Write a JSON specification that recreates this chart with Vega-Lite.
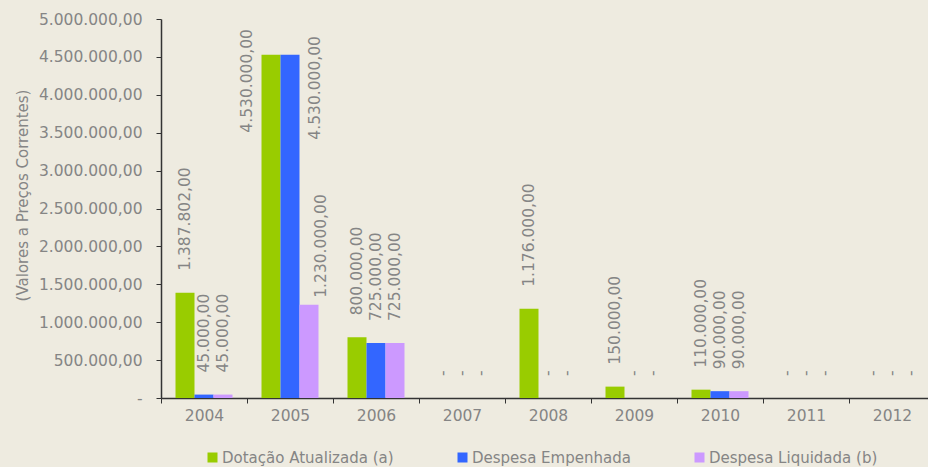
{
  "$schema": "https://vega.github.io/schema/vega-lite/v6.json",
  "width": 774,
  "height": 379,
  "autosize": {"type": "none"},
  "padding": {"left": 161, "top": 19, "right": 0, "bottom": 69},
  "background": "#EEEBE0",
  "config": {
    "locale": {"number": {"decimal": ",", "thousands": ".", "grouping": [3], "currency": ["R$ ", ""]}},
    "view": {"stroke": null},
    "font": "DejaVu Sans",
    "axis": {
      "labelFont": "DejaVu Sans",
      "labelFontSize": 15.5,
      "labelColor": "#858585",
      "domainColor": "#333333",
      "tickColor": "#333333",
      "grid": false,
      "titleFont": "DejaVu Sans",
      "titleFontWeight": "normal",
      "titleColor": "#858585",
      "titleFontSize": 15
    }
  },
  "data": {
    "values": [
      {"ano": "2004", "serie": "Dotação Atualizada (a)", "valor": 1387802},
      {"ano": "2004", "serie": "Despesa Empenhada", "valor": 45000},
      {"ano": "2004", "serie": "Despesa Liquidada (b)", "valor": 45000},
      {"ano": "2005", "serie": "Dotação Atualizada (a)", "valor": 4530000},
      {"ano": "2005", "serie": "Despesa Empenhada", "valor": 4530000},
      {"ano": "2005", "serie": "Despesa Liquidada (b)", "valor": 1230000},
      {"ano": "2006", "serie": "Dotação Atualizada (a)", "valor": 800000},
      {"ano": "2006", "serie": "Despesa Empenhada", "valor": 725000},
      {"ano": "2006", "serie": "Despesa Liquidada (b)", "valor": 725000},
      {"ano": "2007", "serie": "Dotação Atualizada (a)", "valor": 0},
      {"ano": "2007", "serie": "Despesa Empenhada", "valor": 0},
      {"ano": "2007", "serie": "Despesa Liquidada (b)", "valor": 0},
      {"ano": "2008", "serie": "Dotação Atualizada (a)", "valor": 1176000},
      {"ano": "2008", "serie": "Despesa Empenhada", "valor": 0},
      {"ano": "2008", "serie": "Despesa Liquidada (b)", "valor": 0},
      {"ano": "2009", "serie": "Dotação Atualizada (a)", "valor": 150000},
      {"ano": "2009", "serie": "Despesa Empenhada", "valor": 0},
      {"ano": "2009", "serie": "Despesa Liquidada (b)", "valor": 0},
      {"ano": "2010", "serie": "Dotação Atualizada (a)", "valor": 110000},
      {"ano": "2010", "serie": "Despesa Empenhada", "valor": 90000},
      {"ano": "2010", "serie": "Despesa Liquidada (b)", "valor": 90000},
      {"ano": "2011", "serie": "Dotação Atualizada (a)", "valor": 0},
      {"ano": "2011", "serie": "Despesa Empenhada", "valor": 0},
      {"ano": "2011", "serie": "Despesa Liquidada (b)", "valor": 0},
      {"ano": "2012", "serie": "Dotação Atualizada (a)", "valor": 0},
      {"ano": "2012", "serie": "Despesa Empenhada", "valor": 0},
      {"ano": "2012", "serie": "Despesa Liquidada (b)", "valor": 0}
    ]
  },
  "transform": [
    {"calculate": "datum.valor == 0 ? '-' : format(datum.valor, ',.2f')", "as": "rotulo"}
  ],
  "encoding": {
    "x": {
      "field": "ano",
      "type": "nominal",
      "scale": {"paddingInner": 0, "paddingOuter": 0},
      "axis": {"title": null, "labelAngle": 0, "tickBand": "extent", "tickSize": 5, "labelPadding": 5, "domainWidth": 1.5}
    },
    "xOffset": {
      "field": "serie",
      "type": "nominal",
      "sort": ["Dotação Atualizada (a)", "Despesa Empenhada", "Despesa Liquidada (b)"],
      "scale": {"paddingInner": 0, "paddingOuter": 0.763}
    },
    "y": {
      "field": "valor",
      "type": "quantitative",
      "scale": {"domain": [0, 5000000], "nice": false},
      "axis": {
        "values": [0, 500000, 1000000, 1500000, 2000000, 2500000, 3000000, 3500000, 4000000, 4500000, 5000000],
        "format": ",.2f",
        "labelExpr": "datum.value == 0 ? '-\u00a0\u00a0' : datum.label",
        "tickSize": 5,
        "labelPadding": 14,
        "domainWidth": 1.5,
        "title": "(Valores a Preços Correntes)",
        "titleX": -139,
        "titleY": 176,
        "titleAlign": "center",
        "titleBaseline": "middle",
        "titleAngle": 270
      }
    }
  },
  "layer": [
    {
      "mark": {"type": "bar"},
      "encoding": {
        "color": {
          "field": "serie",
          "type": "nominal",
          "sort": ["Dotação Atualizada (a)", "Despesa Empenhada", "Despesa Liquidada (b)"],
          "scale": {
            "domain": ["Dotação Atualizada (a)", "Despesa Empenhada", "Despesa Liquidada (b)"],
            "range": ["#99CC00", "#3366FF", "#CC99FF"]
          },
          "legend": {
            "title": null,
            "orient": "none",
            "legendX": 44,
            "legendY": 431,
            "direction": "horizontal",
            "columns": 3,
            "gridAlign": "none",
            "columnPadding": 61,
            "symbolType": "square",
            "symbolSize": 100,
            "symbolStrokeWidth": 0,
            "labelFont": "DejaVu Sans",
            "labelFontSize": 15,
            "labelColor": "#858585",
            "labelOffset": 2,
            "labelLimit": 400,
            "padding": 0
          }
        }
      }
    },
    {
      "transform": [{"filter": "datum.ano != '2005'"}],
      "mark": {"type": "text", "angle": 270, "align": "left", "baseline": "middle", "dx": 22, "fontSize": 15.5, "color": "#858585"},
      "encoding": {"text": {"field": "rotulo"}}
    },
    {
      "transform": [{"filter": "datum.ano == '2005' && datum.serie == 'Dotação Atualizada (a)'"}],
      "mark": {"type": "text", "angle": 270, "align": "left", "baseline": "middle", "dx": -78, "dy": -24, "fontSize": 15.5, "color": "#858585"},
      "encoding": {"text": {"field": "rotulo"}}
    },
    {
      "transform": [{"filter": "datum.ano == '2005' && datum.serie == 'Despesa Empenhada'"}],
      "mark": {"type": "text", "angle": 270, "align": "left", "baseline": "middle", "dx": -85, "dy": 25, "fontSize": 15.5, "color": "#858585"},
      "encoding": {"text": {"field": "rotulo"}}
    },
    {
      "transform": [{"filter": "datum.ano == '2005' && datum.serie == 'Despesa Liquidada (b)'"}],
      "mark": {"type": "text", "angle": 270, "align": "left", "baseline": "middle", "dx": 7, "dy": 12, "fontSize": 15.5, "color": "#858585"},
      "encoding": {"text": {"field": "rotulo"}}
    }
  ]
}
